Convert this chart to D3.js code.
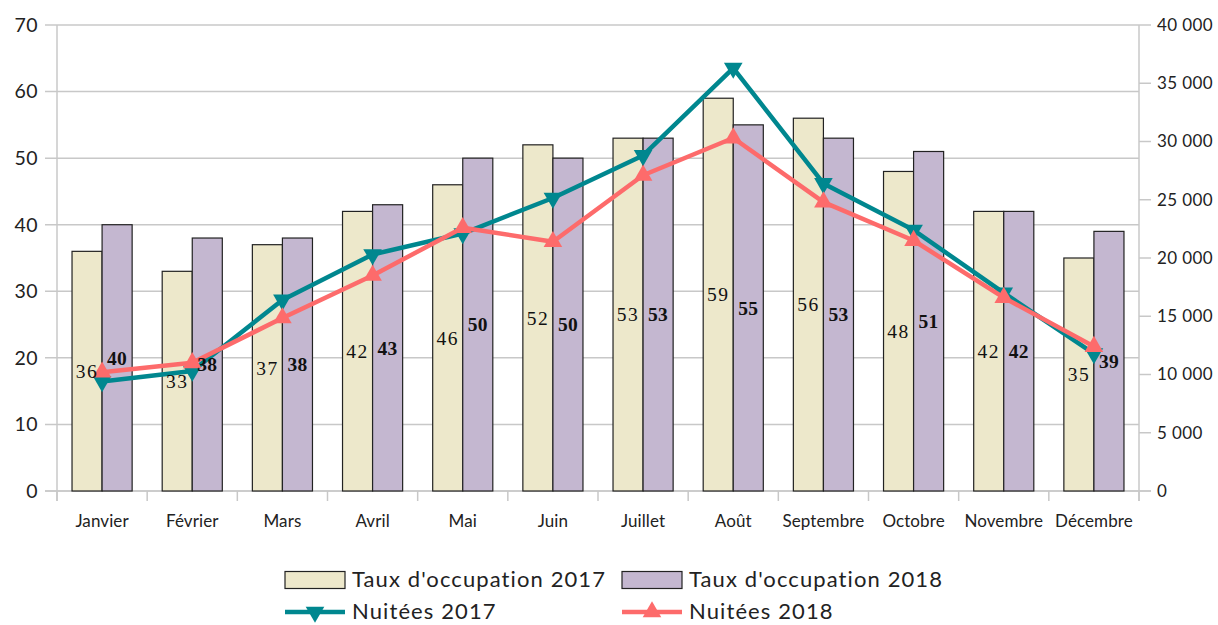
<!DOCTYPE html>
<html><head><meta charset="utf-8">
<script src="https://cdn.jsdelivr.net/npm/d3@7"></script>
<style>
html,body{margin:0;padding:0;background:#fff;}
svg{display:block;}
</style></head>
<body>
<svg id="chart" width="1218" height="625"></svg>
<script>
const months = ["Janvier","Février","Mars","Avril","Mai","Juin","Juillet","Août","Septembre","Octobre","Novembre","Décembre"];
const occ2017 = [36,33,37,42,46,52,53,59,56,48,42,35];
const occ2018 = [40,38,38,43,50,50,53,55,53,51,42,39];
const nuit2017 = [9400,10300,16400,20300,22100,25150,28800,36300,26400,22400,17000,11800];
const nuit2018 = [10200,11000,14850,18500,22600,21400,27100,30300,24800,21500,16600,12400];
const leftTicks = [0,10,20,30,40,50,60,70];
const rightTicks = [0,5000,10000,15000,20000,25000,30000,35000,40000];
const seriesNames = ["Taux d'occupation 2017","Taux d'occupation 2018","Nuitées 2017","Nuitées 2018"];

const C = {beige:"#ede8cb", lav:"#c4b7d0", cyan:"#00878f", pink:"#fd6b6b", grid:"#c8c8c8", text:"#222"};
const sans = "Lato, 'Open Sans', sans-serif";
const serif = "'Liberation Serif', 'DejaVu Serif', serif";

const svg = d3.select("#chart");
const L = 57, R = 1139, T = 25, B = 491;

const x0 = d3.scaleBand().domain(months).range([L, R]).padding(0);
const bw = x0.bandwidth();
const x1 = d3.scaleBand().domain(["2017","2018"]).range([bw/6, bw*5/6]).padding(0);
const yL = d3.scaleLinear().domain([0,70]).range([B, T]);
const yR = d3.scaleLinear().domain([0,40000]).range([B, T]);

// gridlines
svg.append("g").selectAll("line").data(leftTicks).join("line")
  .attr("x1", L-12).attr("x2", R).attr("y1", d=>yL(d)).attr("y2", d=>yL(d))
  .attr("stroke", C.grid).attr("stroke-width", 1.5);

svg.append("line").attr("x1",L).attr("x2",L).attr("y1",T).attr("y2",B+10).attr("stroke",C.grid).attr("stroke-width",1.5);
svg.append("line").attr("x1",R).attr("x2",R).attr("y1",T).attr("y2",B+10).attr("stroke",C.grid).attr("stroke-width",1.5);
svg.append("line").attr("x1",L-12).attr("x2",R+12).attr("y1",B).attr("y2",B).attr("stroke",C.grid).attr("stroke-width",1.5);

const bounds = months.map(m=>x0(m)).concat([R]);
svg.append("g").selectAll("line").data(bounds).join("line")
  .attr("x1",d=>d).attr("x2",d=>d).attr("y1",B).attr("y2",B+10)
  .attr("stroke",C.grid).attr("stroke-width",1.5);

svg.append("g").selectAll("line").data(rightTicks).join("line")
  .attr("x1",R).attr("x2",R+12).attr("y1",d=>yR(d)).attr("y2",d=>yR(d))
  .attr("stroke",C.grid).attr("stroke-width",1.5);

svg.append("g").selectAll("text").data(leftTicks).join("text")
  .attr("x", 38).attr("y", d=>yL(d)).attr("dy","0.35em").attr("text-anchor","end")
  .attr("font-family",sans).attr("font-size",19.5).attr("letter-spacing",0.5).attr("fill",C.text).text(d=>d);

const fmt = d => d3.format(",")(d).replace(/,/g," ");
svg.append("g").selectAll("text").data(rightTicks).join("text")
  .attr("x", 1157).attr("y", d=>yR(d)).attr("dy","0.35em").attr("text-anchor","start")
  .attr("font-family",sans).attr("font-size",17).attr("letter-spacing",0.4).attr("fill",C.text).text(fmt);

svg.append("g").selectAll("text").data(months).join("text")
  .attr("x", d=>x0(d)+bw/2).attr("y", 527).attr("text-anchor","middle")
  .attr("font-family",sans).attr("font-size",17).attr("letter-spacing",0.1).attr("fill",C.text).text(d=>d);

const bars = [
  {key:"2017", vals:occ2017, fill:C.beige},
  {key:"2018", vals:occ2018, fill:C.lav}
];
bars.forEach(s=>{
  svg.append("g").selectAll("rect").data(s.vals).join("rect")
    .attr("x",(d,i)=>x0(months[i])+x1(s.key))
    .attr("y",d=>yL(d))
    .attr("width",x1.bandwidth())
    .attr("height",d=>B-yL(d))
    .attr("fill",s.fill).attr("stroke","#222").attr("stroke-width",1.2);
});

const lines = [
  {vals:nuit2017, color:C.cyan, rot:180},
  {vals:nuit2018, color:C.pink, rot:0}
];
const tri = d3.symbol().type(d3.symbolTriangle).size(150);
lines.forEach(s=>{
  const line = d3.line().x((d,i)=>x0(months[i])+bw/2).y(d=>yR(d));
  svg.append("path").datum(s.vals).attr("d",line).attr("fill","none")
    .attr("stroke",s.color).attr("stroke-width",4.5).attr("stroke-linejoin","round");
  svg.append("g").selectAll("path").data(s.vals).join("path")
    .attr("d",tri)
    .attr("transform",(d,i)=>`translate(${x0(months[i])+bw/2},${yR(d)}) rotate(${s.rot})`)
    .attr("fill",s.color);
});

bars.forEach(s=>{
  svg.append("g").selectAll("text").data(s.vals).join("text")
    .attr("x",(d,i)=>x0(months[i])+x1(s.key)+x1.bandwidth()/2)
    .attr("y",d=>(yL(d)+B)/2).attr("dy","0.35em").attr("text-anchor","middle")
    .attr("font-family",serif).attr("font-size",19.5)
    .attr("font-weight",s.key==="2018"?"bold":"normal")
    .attr("letter-spacing",s.key==="2017"?1.5:0.3)
    .attr("fill","#111").text(d=>d);
});

const leg = svg.append("g");
const legItems = [
  {name:seriesNames[0], type:"rect", fill:C.beige, x:285, y:580},
  {name:seriesNames[1], type:"rect", fill:C.lav, x:622, y:580},
  {name:seriesNames[2], type:"line", color:C.cyan, rot:180, x:285, y:612},
  {name:seriesNames[3], type:"line", color:C.pink, rot:0, x:622, y:612}
];
legItems.forEach(it=>{
  if(it.type==="rect"){
    leg.append("rect").attr("x",it.x).attr("y",it.y-8.5).attr("width",60).attr("height",17)
      .attr("fill",it.fill).attr("stroke","#222").attr("stroke-width",1.2);
  } else {
    leg.append("line").attr("x1",it.x).attr("x2",it.x+60).attr("y1",it.y).attr("y2",it.y)
      .attr("stroke",it.color).attr("stroke-width",4.5);
    leg.append("path").attr("d",tri).attr("transform",`translate(${it.x+30},${it.y}) rotate(${it.rot})`)
      .attr("fill",it.color);
  }
  leg.append("text").attr("x",it.x+67).attr("y",it.y).attr("dy","0.34em")
    .attr("font-family",sans).attr("font-size",22).attr("letter-spacing",1.1).attr("fill",C.text).text(it.name);
});
</script>
</body></html>
